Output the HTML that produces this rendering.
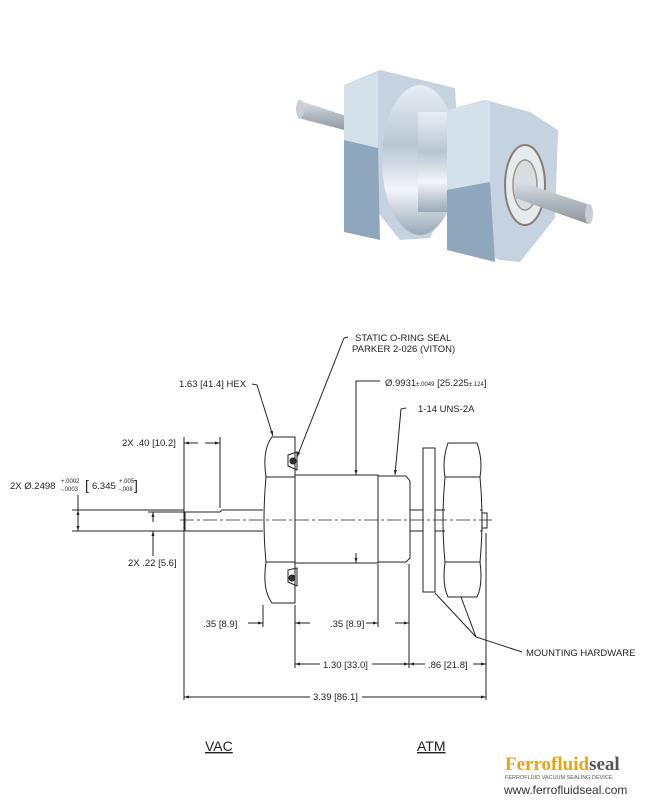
<!DOCTYPE html>
<html><head><meta charset="utf-8"><style>
body{margin:0;background:#fff;width:650px;height:800px;overflow:hidden}
svg{display:block}
text{font-family:"Liberation Sans",Arial,sans-serif;fill:#222}
</style></head><body>
<svg width="650" height="800" viewBox="0 0 650 800" xmlns="http://www.w3.org/2000/svg">
<defs>
<marker id="a" viewBox="0 0 10 10" refX="10" refY="5" markerWidth="6" markerHeight="5" orient="auto-start-reverse"><path d="M0,2 L10,5 L0,8 z" fill="#222"/></marker>
<linearGradient id="met" x1="0" y1="0" x2="0" y2="1"><stop offset="0" stop-color="#e8eef4"/><stop offset=".4" stop-color="#b9c6d2"/><stop offset=".7" stop-color="#f2f5f8"/><stop offset="1" stop-color="#9aa8b6"/></linearGradient>
<linearGradient id="sh" x1="0" y1="0" x2="0" y2="1"><stop offset="0" stop-color="#dde2e6"/><stop offset=".5" stop-color="#b0b8bf"/><stop offset="1" stop-color="#8d969e"/></linearGradient>
</defs>
<g>
<polygon points="298,100 352,118 352,132 298,118" fill="url(#sh)"/>
<ellipse cx="300" cy="109" rx="4" ry="9" fill="#c9cfd4"/>
<polygon points="344,85 380,70 455,88 460,175 430,238 400,240 380,215 344,178" fill="#c5d3e0"/>
<polygon points="344,140 378,148 380,240 344,232" fill="#8fa7bc"/>
<polygon points="344,85 378,72 378,148 344,140" fill="#d4e0ea"/>
<ellipse cx="420" cy="160" rx="38" ry="75" fill="url(#met)"/>
<rect x="418" y="112" width="80" height="100" fill="url(#met)"/>
<polygon points="447,110 485,100 530,112 558,130 555,218 520,262 500,260 447,240" fill="#c5d3e0"/>
<polygon points="447,110 490,100 490,182 447,190" fill="#d4e0ea"/>
<polygon points="447,190 490,182 495,262 447,250" fill="#8fa7bc"/>
<ellipse cx="525" cy="185" rx="20" ry="40" fill="#e6ebef" stroke="#8a7d70" stroke-width="2"/>
<ellipse cx="525" cy="185" rx="12" ry="25" fill="#d8dde2" stroke="#a39585" stroke-width="1.5"/>
<polygon points="515,180 590,205 588,224 515,198" fill="url(#sh)"/>
<ellipse cx="589" cy="214" rx="4" ry="10" fill="#c9cfd4"/>
</g>
<g stroke="#222" stroke-width="1" fill="none">
<path d="M185,512 L220,512 L222,510 L263,510 M185,531 L263,531 M185,512 L185,531"/>
<path d="M272,437 L295,437 L295,603 L272,603 Q262,590 266,562 Q262,520 266,477 Q262,450 272,437 Z"/>
<path d="M266,477 L295,477 M266,562 L295,562"/>
<path d="M288,455 L297,452 L297,470 L288,466 Z M288,570 L297,568 L297,586 L288,582 Z"/>
<circle cx="293" cy="461" r="3" fill="#333"/><circle cx="292" cy="578" r="3" fill="#333"/>
<path d="M295,475 L378,475 L378,563 L295,563"/>
<path d="M378,476 L406,476 L410,481 L410,558 L406,562 L378,562"/>
<path d="M410,510 L423,510 M410,531 L423,531 M435,510 L445,510 M435,531 L445,531 M480,510 L482,510 L482,531 L480,531 M482,513 L487,513 L487,528 L482,528"/>
<rect x="423" y="448" width="12" height="144"/>
<path d="M448,443 L477,443 Q483,460 480,477 Q484,520 480,562 Q483,585 477,597 L448,597 Q442,585 445,562 Q441,520 445,477 Q442,460 448,443 Z"/>
<path d="M445,477 L480,477 M445,562 L480,562"/>
<path d="M180,520 L492,520" stroke-dasharray="14,3,3,3" stroke-width=".7"/>
<path d="M184,437 L184,700 M220,437 L220,508 M486,533 L486,700 M295,605 L295,668 M263,605 L263,627 M409,564 L409,668 M378,564 L378,627 M72,510 L184,510 M72,531 L184,531 M148,512 L185,512"/>
<path d="M184,697 L486,697" marker-start="url(#a)" marker-end="url(#a)"/>
<path d="M295,664 L409,664" marker-start="url(#a)" marker-end="url(#a)"/>
<path d="M409,664 L486,664" marker-start="url(#a)" marker-end="url(#a)"/>
<path d="M248,623 L263,623" marker-end="url(#a)"/><path d="M310,623 L295,623" marker-end="url(#a)"/>
<path d="M366,623 L378,623" marker-end="url(#a)"/>
<path d="M395,623 L409,623" marker-end="url(#a)"/>
<path d="M198,443 L184,443" marker-end="url(#a)"/><path d="M205,443 L220,443" marker-end="url(#a)"/>
<path d="M78,495 L78,531" marker-end="url(#a)"/><path d="M78,520 L78,510" marker-end="url(#a)"/>
<path d="M153,556 L153,531" marker-end="url(#a)"/><path d="M153,522 L153,512" marker-end="url(#a)"/>
<path d="M380,381 L356,381 L356,475" marker-end="url(#a)"/>
<path d="M356,553 L356,563" marker-end="url(#a)"/>
<path d="M406,408 L401,409 L395,475" marker-end="url(#a)"/>
<path d="M348,337 L344,338 L297,457" marker-end="url(#a)"/>
<path d="M252,384 L257,385 L273,436" marker-end="url(#a)"/>
<path d="M522,652 L476,637 L435,593 M476,637 L461,597"/>
</g>
<g fill="#fff">
<rect x="320" y="658" width="52" height="12"/>
<rect x="425" y="658" width="48" height="12"/>
<rect x="310" y="691" width="52" height="12"/>
</g>
<g font-size="9.5">
<text x="355" y="341">STATIC O-RING SEAL</text>
<text x="352" y="352">PARKER 2-026 (VITON)</text>
<text x="179" y="387">1.63 [41.4] HEX</text>
<text x="385" y="386">Ø.9931<tspan font-size="6">±.0049</tspan> [25.225<tspan font-size="6">±.124</tspan>]</text>
<text x="418" y="412">1-14 UNS-2A</text>
<text x="122" y="446">2X .40 [10.2]</text>
<text x="10" y="489">2X Ø.2498</text>
<text x="61" y="483" font-size="6">+.0002</text><text x="61" y="491" font-size="6">-.0003</text>
<text x="85" y="490" font-size="14">[</text><text x="92" y="489">6.345</text>
<text x="119" y="483" font-size="6">+.005</text><text x="119" y="491" font-size="6">-.008</text>
<text x="134" y="490" font-size="14">]</text>
<text x="128" y="566">2X .22 [5.6]</text>
<text x="203" y="627">.35 [8.9]</text>
<text x="330" y="627">.35 [8.9]</text>
<text x="323" y="668">1.30 [33.0]</text>
<text x="428" y="668">.86 [21.8]</text>
<text x="313" y="700">3.39 [86.1]</text>
<text x="526" y="656">MOUNTING HARDWARE</text>
</g>
<text x="205" y="751" font-size="14" text-decoration="underline">VAC</text>
<text x="417" y="751" font-size="14" text-decoration="underline">ATM</text>
<text x="505" y="770" font-size="19" font-weight="bold" style="font-family:'Liberation Serif',serif;fill:#e8a317">Ferrofluid<tspan style="fill:#555">seal</tspan></text>
<text x="505" y="779" font-size="5.5" style="fill:#555">FERROFLUID VACUUM SEALING DEVICE</text>
<text x="504" y="794" font-size="12" style="fill:#333">www.ferrofluidseal.com</text>
</svg>
</body></html>
